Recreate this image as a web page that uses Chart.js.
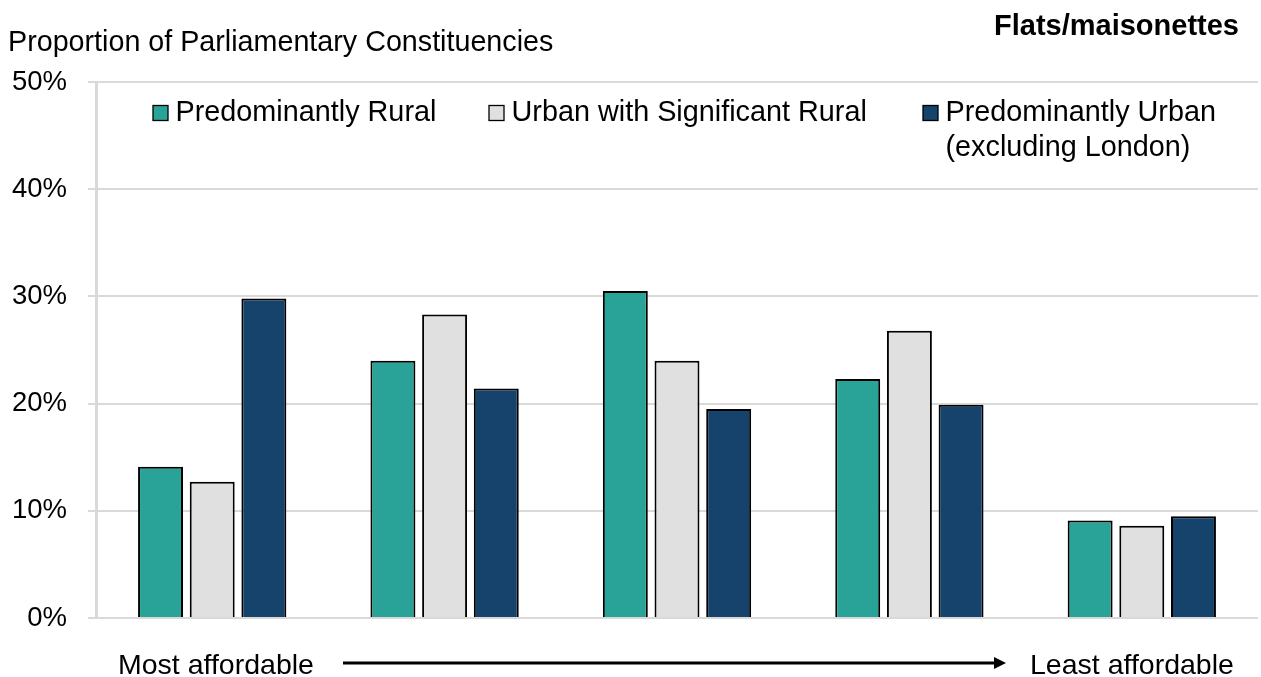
<!DOCTYPE html>
<html>
<head>
<meta charset="utf-8">
<title>Flats/maisonettes affordability</title>
<script src="https://cdn.jsdelivr.net/npm/chart.js@4.4.1/dist/chart.umd.min.js"></script>
<style>
  html, body { margin: 0; padding: 0; background: #ffffff; }
  #wrap { width: 1261px; height: 677px; position: relative; }
</style>
</head>
<body>
<div id="wrap"><canvas id="chart" width="1261" height="677"></canvas></div>
<script>
// Affordability bands, from most to least affordable
const categories = ['Band 1', 'Band 2', 'Band 3', 'Band 4', 'Band 5'];

// Share of constituencies (%) in each band, by rural-urban classification
const predominantlyRural = [14.1, 24.0, 30.5, 22.3, 9.1];
const urbanWithSignificantRural = [12.7, 28.3, 24.0, 26.8, 8.6];
const predominantlyUrban = [29.8, 21.4, 19.5, 19.9, 9.5];

const seriesNames = [
  'Predominantly Rural',
  'Urban with Significant Rural',
  'Predominantly Urban\n(excluding London)'
];
const seriesColors = ['#29A398', '#E0E0E0', '#15436B'];

const yTicks = [0, 10, 20, 30, 40, 50];

const FONT = '"Liberation Sans", Arial, Helvetica, sans-serif';

// Titles, legend and the affordability arrow drawn onto the canvas
const annotations = {
  id: 'annotations',
  afterDraw(chart) {
    const ctx = chart.ctx;
    ctx.save();
    ctx.fillStyle = '#000';
    ctx.textBaseline = 'alphabetic';

    // Axis title
    ctx.font = '28.7px ' + FONT;
    ctx.textAlign = 'left';
    ctx.fillText('Proportion of Parliamentary Constituencies', 8, 51);

    // Panel title
    ctx.font = 'bold 29px ' + FONT;
    ctx.textAlign = 'right';
    ctx.fillText('Flats/maisonettes', 1239, 35);

    // Legend
    const boxX = [153, 489, 923];
    ctx.font = '28.8px ' + FONT;
    ctx.textAlign = 'left';
    chart.data.datasets.forEach((ds, i) => {
      ctx.fillStyle = ds.backgroundColor;
      ctx.fillRect(boxX[i], 105.5, 15, 15);
      ctx.strokeStyle = '#000';
      ctx.lineWidth = 1.3;
      ctx.strokeRect(boxX[i], 105.5, 15, 15);
      ctx.fillStyle = '#000';
      ds.label.split('\n').forEach((line, j) => {
        ctx.fillText(line, boxX[i] + 22.5, 121 + j * 35);
      });
    });

    // Affordability direction
    ctx.font = '28.5px ' + FONT;
    ctx.textAlign = 'left';
    ctx.fillText('Most affordable', 118, 674);
    ctx.fillText('Least affordable', 1030, 674);
    ctx.strokeStyle = '#000';
    ctx.lineWidth = 3;
    ctx.beginPath();
    ctx.moveTo(343, 663);
    ctx.lineTo(996, 663);
    ctx.stroke();
    ctx.beginPath();
    ctx.moveTo(1006, 663);
    ctx.lineTo(994, 657);
    ctx.lineTo(994, 669);
    ctx.closePath();
    ctx.fill();

    ctx.restore();
  }
};

const seriesValues = [predominantlyRural, urbanWithSignificantRural, predominantlyUrban];

new Chart(document.getElementById('chart'), {
  type: 'bar',
  data: {
    labels: categories,
    datasets: seriesValues.map((vals, i) => ({
      label: seriesNames[i],
      data: vals,
      backgroundColor: seriesColors[i],
      borderColor: '#000',
      borderWidth: 2,
      borderSkipped: 'start',
      categoryPercentage: 0.667,
      barPercentage: 0.87
    }))
  },
  options: {
    responsive: false,
    animation: false,
    devicePixelRatio: 1,
    layout: { padding: { top: 82, right: 3, bottom: 59, left: 0 } },
    plugins: {
      legend: { display: false },
      title: { display: false },
      tooltip: { enabled: false }
    },
    scales: {
      x: {
        display: false,
        grid: { display: false }
      },
      y: {
        min: 0,
        max: 50,
        afterFit(scale) { scale.width = 96; },
        afterBuildTicks(scale) {
          scale.ticks = yTicks.map(v => ({ value: v }));
        },
        ticks: {
          callback: v => v + '%',
          color: '#000',
          padding: 21,
          font: { family: FONT, size: 27.5 }
        },
        grid: {
          color: '#D9D9D9',
          lineWidth: 2,
          tickLength: 8,
          drawTicks: true
        },
        border: { display: true, color: '#D9D9D9', width: 3 }
      }
    }
  },
  plugins: [annotations]
});
</script>
</body>
</html>
